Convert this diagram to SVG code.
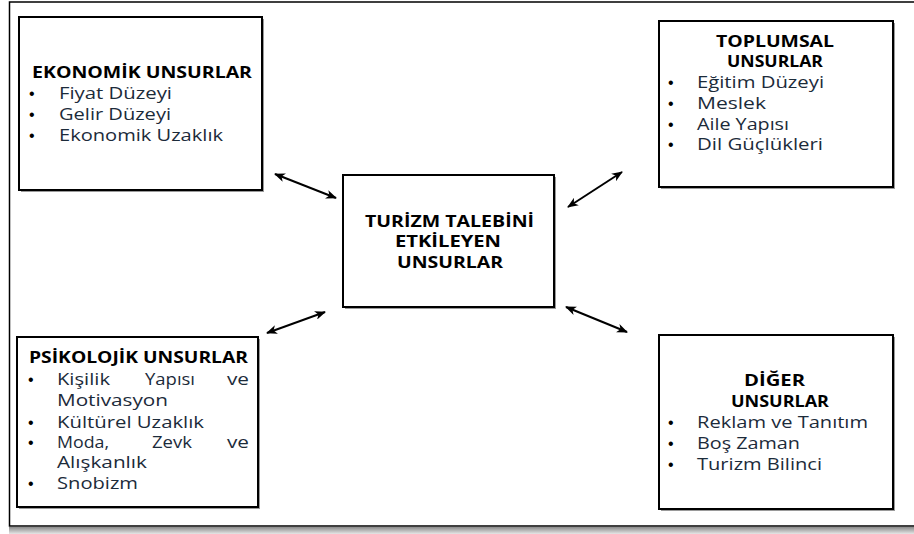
<svg xmlns="http://www.w3.org/2000/svg" width="914" height="534" viewBox="0 0 914 534">
<defs>
<style>
.box{fill:#fff;stroke:#000;stroke-width:2}
.sh{fill:#9a9a9a}
.h{font-family:"Open Sans","DejaVu Sans",sans-serif;font-weight:bold;font-size:16px;fill:#000}
.t{font-family:"Open Sans","DejaVu Sans",sans-serif;font-size:16px;fill:#1c2b3a}
.b{font-family:"Liberation Sans",Arial,sans-serif;font-size:16px;fill:#000}
.c{stroke:#000;stroke-width:2;fill:none;marker-start:url(#ah);marker-end:url(#ah)}
</style>
<marker id="ah" viewBox="0 0 11 9" refX="10" refY="4.5" markerWidth="11" markerHeight="9" markerUnits="userSpaceOnUse" orient="auto-start-reverse">
<path d="M0,0 L11,4.5 L0,9 L3,4.5 z" fill="#000"/>
</marker>
<linearGradient id="bsh" x1="0" y1="0" x2="0" y2="1">
<stop offset="0" stop-color="#8a8a8a"/>
<stop offset="1" stop-color="#e6e6e6"/>
</linearGradient>
</defs>
<rect width="914" height="534" fill="#fff"/>
<g id="frame">
<rect x="9" y="527" width="905" height="7" fill="url(#bsh)"/>
<path d="M916,2 L9.5,2 L9.5,526 L916,526" fill="none" stroke="#000" stroke-width="1.5"/>
</g>
<g id="connectors">
<line class="c" x1="275" y1="174" x2="336" y2="198"/>
<line class="c" x1="568" y1="207" x2="622" y2="172"/>
<line class="c" x1="267" y1="333" x2="325" y2="312"/>
<line class="c" x1="566" y1="307" x2="627" y2="332"/>
</g>
<g id="ekonomik">
<rect class="sh" x="21" y="19" width="243" height="173"/>
<rect class="box" x="19" y="17" width="243" height="173"/>
<text class="h" x="32" y="78" textLength="220" lengthAdjust="spacingAndGlyphs">EKONOMİK UNSURLAR</text>
<text class="b" x="29" y="99">•</text>
<text class="t" x="59" y="99" textLength="113" lengthAdjust="spacingAndGlyphs">Fiyat Düzeyi</text>
<text class="b" x="29" y="120">•</text>
<text class="t" x="59" y="120" textLength="112" lengthAdjust="spacingAndGlyphs">Gelir Düzeyi</text>
<text class="b" x="29" y="141">•</text>
<text class="t" x="59" y="141" textLength="164" lengthAdjust="spacingAndGlyphs">Ekonomik Uzaklık</text>
</g>
<g id="toplumsal">
<rect class="sh" x="661" y="23" width="234" height="166"/>
<rect class="box" x="659" y="21" width="234" height="166"/>
<text class="h" x="716" y="47" textLength="118" lengthAdjust="spacingAndGlyphs">TOPLUMSAL</text>
<text class="h" x="727" y="67" textLength="96" lengthAdjust="spacingAndGlyphs">UNSURLAR</text>
<text class="b" x="668" y="88">•</text>
<text class="t" x="697" y="88" textLength="127" lengthAdjust="spacingAndGlyphs">Eğitim Düzeyi</text>
<text class="b" x="668" y="109">•</text>
<text class="t" x="697" y="109" textLength="69" lengthAdjust="spacingAndGlyphs">Meslek</text>
<text class="b" x="668" y="130">•</text>
<text class="t" x="697" y="130" textLength="92" lengthAdjust="spacingAndGlyphs">Aile Yapısı</text>
<text class="b" x="668" y="150">•</text>
<text class="t" x="697" y="150" textLength="126" lengthAdjust="spacingAndGlyphs">Dil Güçlükleri</text>
</g>
<g id="merkez">
<rect class="sh" x="345" y="177" width="211" height="132"/>
<rect class="box" x="343" y="175" width="211" height="132"/>
<text class="h" x="365" y="227" textLength="169" lengthAdjust="spacingAndGlyphs">TURİZM TALEBİNİ</text>
<text class="h" x="395" y="247" textLength="106" lengthAdjust="spacingAndGlyphs">ETKİLEYEN</text>
<text class="h" x="397" y="268" textLength="106" lengthAdjust="spacingAndGlyphs">UNSURLAR</text>
</g>
<g id="psikolojik">
<rect class="sh" x="19" y="339" width="241" height="170"/>
<rect class="box" x="17" y="337" width="241" height="170"/>
<text class="h" x="29" y="363" textLength="219" lengthAdjust="spacingAndGlyphs">PSİKOLOJİK UNSURLAR</text>
<text class="b" x="28" y="385">•</text>
<text class="t" x="57" y="385" textLength="53" lengthAdjust="spacingAndGlyphs">Kişilik</text>
<text class="t" x="145" y="385" textLength="50" lengthAdjust="spacingAndGlyphs">Yapısı</text>
<text class="t" x="227" y="385" textLength="22" lengthAdjust="spacingAndGlyphs">ve</text>
<text class="t" x="57" y="406" textLength="111" lengthAdjust="spacingAndGlyphs">Motivasyon</text>
<text class="b" x="28" y="428">•</text>
<text class="t" x="57" y="428" textLength="147" lengthAdjust="spacingAndGlyphs">Kültürel Uzaklık</text>
<text class="b" x="28" y="448">•</text>
<text class="t" x="57" y="448" textLength="52" lengthAdjust="spacingAndGlyphs">Moda,</text>
<text class="t" x="152" y="448" textLength="40" lengthAdjust="spacingAndGlyphs">Zevk</text>
<text class="t" x="227" y="448" textLength="22" lengthAdjust="spacingAndGlyphs">ve</text>
<text class="t" x="57" y="468" textLength="90" lengthAdjust="spacingAndGlyphs">Alışkanlık</text>
<text class="b" x="28" y="489">•</text>
<text class="t" x="57" y="489" textLength="81" lengthAdjust="spacingAndGlyphs">Snobizm</text>
</g>
<g id="diger">
<rect class="sh" x="661" y="337" width="234" height="174"/>
<rect class="box" x="659" y="335" width="234" height="174"/>
<text class="h" x="744" y="386" textLength="61" lengthAdjust="spacingAndGlyphs">DİĞER</text>
<text class="h" x="731" y="407" textLength="98" lengthAdjust="spacingAndGlyphs">UNSURLAR</text>
<text class="b" x="668" y="428">•</text>
<text class="t" x="697" y="428" textLength="171" lengthAdjust="spacingAndGlyphs">Reklam ve Tanıtım</text>
<text class="b" x="668" y="449">•</text>
<text class="t" x="697" y="449" textLength="103" lengthAdjust="spacingAndGlyphs">Boş Zaman</text>
<text class="b" x="668" y="470">•</text>
<text class="t" x="697" y="470" textLength="125" lengthAdjust="spacingAndGlyphs">Turizm Bilinci</text>
</g>
</svg>
